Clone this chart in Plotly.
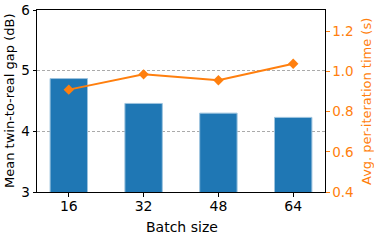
import plotly.graph_objects as go

batch_sizes = ["16", "32", "48", "64"]
gap_db = [4.87, 4.46, 4.30, 4.23]
iter_time = [0.909, 0.985, 0.956, 1.038]

fig = go.Figure()
fig.add_trace(go.Bar(
    x=batch_sizes, y=gap_db, width=0.5,
    marker=dict(color="#1f77b4", line=dict(color="#9cc3de", width=1)),
    yaxis="y", showlegend=False,
))
fig.add_trace(go.Scatter(
    x=batch_sizes, y=iter_time, mode="lines+markers",
    line=dict(color="#ff7f0e", width=2),
    marker=dict(symbol="diamond", size=8, color="#ff7f0e"),
    yaxis="y2", showlegend=False,
))

orange = "#ff7f0e"
xfont = dict(family="DejaVu Sans", size=14, color="black")
yfont = dict(family="DejaVu Sans", size=13.5, color="black")
y2font = dict(family="DejaVu Sans", size=13.5, color=orange)
vfont = dict(family="DejaVu Sans", size=13, color="black")
v2font = dict(family="DejaVu Sans", size=13, color=orange)

W, H = 374, 241
l, r, t, b = 37, 49, 10, 49
pw, ph = W - l - r, H - t - b
def px(x): return (x - l) / pw
def py(y): return (H - b - y) / ph

fig.update_layout(
    width=W, height=H,
    margin=dict(l=l, r=r, t=t, b=b, autoexpand=False),
    paper_bgcolor="white", plot_bgcolor="white",
    font=xfont,
    xaxis=dict(
        type="category", range=[-0.425, 3.425], automargin=False,
        showline=True, linecolor="black", linewidth=1, mirror=True,
        ticks="outside", ticklen=3.5, tickcolor="black",
        showgrid=False, zeroline=False,
        tickfont=xfont, ticklabelstandoff=-2,
    ),
    yaxis=dict(
        range=[3, 6], tickvals=[3, 4, 5, 6], automargin=False,
        showline=True, linecolor="black", linewidth=1,
        ticks="outside", ticklen=3.5, tickcolor="black",
        showgrid=True, gridcolor="#aaaaaa", griddash="3px,2px", gridwidth=0.8,
        zeroline=False,
        tickfont=yfont,
    ),
    yaxis2=dict(
        overlaying="y", side="right", automargin=False,
        range=[0.4, 1.305], tickvals=[0.4, 0.6, 0.8, 1.0, 1.2],
        ticktext=["0.4", "0.6", "0.8", "1.0", "1.2"],
        showline=True, linecolor="black", linewidth=1,
        ticks="outside", ticklen=3.5, tickcolor=orange,
        showgrid=False, zeroline=False,
        tickfont=y2font,
    ),
    annotations=[
        dict(text="Batch size", x=px(181.5), y=py(227), xref="paper", yref="paper",
             showarrow=False, font=xfont, xanchor="center", yanchor="middle"),
        dict(text="Mean twin-to-real gap (dB)", x=px(9), y=py(101), xref="paper", yref="paper",
             showarrow=False, font=vfont, textangle=-90, xanchor="center", yanchor="middle"),
        dict(text="Avg. per-iteration time (s)", x=px(366), y=py(102), xref="paper", yref="paper",
             showarrow=False, font=v2font, textangle=-90, xanchor="center", yanchor="middle"),
    ],
)

fig.write_html("out.html", config={"displayModeBar": False},
               post_script="document.body.style.margin='0';document.body.style.padding='0';")
